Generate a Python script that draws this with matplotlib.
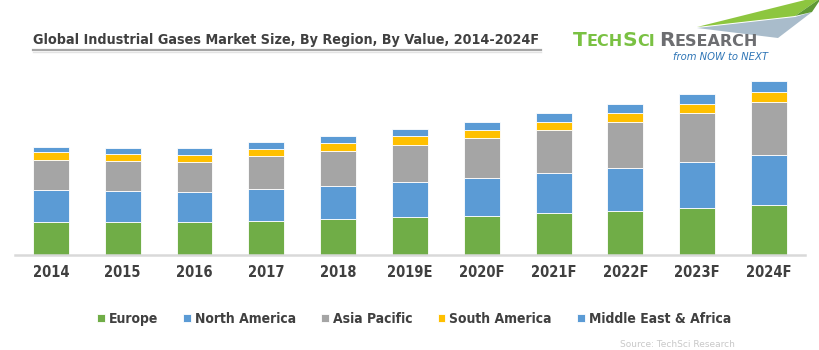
"""
Global industrial gases market size by region, stacked bars 2014-2024F.
Values read off the reference picture (arbitrary units, pixel heights).
"""

import matplotlib.pyplot as plt
import numpy as np
from matplotlib.patches import Polygon

YEARS = ["2014", "2015", "2016", "2017", "2018", "2019E", "2020F",
         "2021F", "2022F", "2023F", "2024F"]
EUROPE = [33.3, 32.7, 32.7, 34.3, 35.7, 37.7, 39.3, 41.7, 44.0, 46.7, 49.7]
NORTH_AMERICA = [31.7, 31.0, 30.0, 31.7, 33.6, 35.6, 38.0, 40.0, 42.7, 46.3, 50.0]
ASIA_PACIFIC = [30.0, 30.0, 30.6, 33.0, 35.0, 36.7, 40.0, 43.0, 46.6, 48.7, 53.0]
SOUTH_AMERICA = [8.0, 7.6, 7.0, 7.3, 7.4, 9.0, 8.0, 8.6, 8.7, 9.6, 10.3]
MEA = [5.3, 5.7, 6.7, 6.7, 7.3, 6.7, 7.7, 8.4, 9.0, 9.7, 11.0]

SERIES = [
    ("Europe", EUROPE, "#70ad47"),
    ("North America", NORTH_AMERICA, "#5b9bd5"),
    ("Asia Pacific", ASIA_PACIFIC, "#a5a5a5"),
    ("South America", SOUTH_AMERICA, "#ffc000"),
    ("Middle East & Africa", MEA, "#5b9bd5"),
]

TXT = "#404040"
FONT = dict(family="DejaVu Sans", stretch="condensed", weight="bold")

W, H = 820, 350
fig = plt.figure(figsize=(W / 100, H / 100), dpi=100, facecolor="white")


def fx(px):
    return px / W


def fy(py):
    return 1 - py / H


# plot area: x 15..805 px, baseline at y=255, top at y=60
ax = fig.add_axes([fx(15), fy(255), fx(790), (255 - 60) / H])
x = np.arange(len(YEARS))
bottom = np.zeros(len(YEARS))
for name, vals, color in SERIES:
    ax.bar(x, vals, width=0.5, bottom=bottom, color=color, label=name,
           edgecolor="white", linewidth=0.6)
    bottom += np.array(vals)

ax.set_xlim(-0.5, len(YEARS) - 0.5)
ax.set_ylim(0, 195)
ax.set_yticks([])
ax.set_xticks(x)
ax.set_xticklabels(YEARS, color=TXT, fontsize=10.5, **FONT)
ax.tick_params(axis="x", length=0, pad=7)
for side in ["top", "left", "right"]:
    ax.spines[side].set_visible(False)
ax.spines["bottom"].set_color("#d9d9d9")
ax.spines["bottom"].set_linewidth(1.8)

# title + underline
fig.text(fx(33), fy(40), "Global Industrial Gases Market Size, By Region, By Value, 2014-2024F",
         ha="left", va="center", color=TXT, fontsize=10.3, **FONT)
fig.add_artist(plt.Line2D([fx(33), fx(541)], [fy(50), fy(50)], color="#a6a6a6", lw=1.6))
fig.add_artist(plt.Line2D([fx(33), fx(541)], [fy(52), fy(52)], color="#e3e3e3", lw=1.0))

# logo swoosh
fig.add_artist(Polygon([(fx(697), fy(27)), (fx(805), fy(0)), (fx(818), fy(0)), (fx(795), fy(16))],
                       closed=True, facecolor="#8dc63f", edgecolor="none"))
fig.add_artist(Polygon([(fx(697), fy(28)), (fx(795), fy(17)), (fx(812), fy(12)), (fx(778), fy(38))],
                       closed=True, facecolor="#a9bccb", edgecolor="none"))
fig.add_artist(Polygon([(fx(795), fy(16)), (fx(818), fy(0)), (fx(820), fy(0)), (fx(812), fy(12))],
                       closed=True, facecolor="#5f9a34", edgecolor="none"))

# logo wordmark in small caps: big initials, smaller rest
renderer = fig.canvas.get_renderer()
pieces = [("T", 14.5, "#7ac143"), ("ECH", 11.5, "#7ac143"), ("S", 14.5, "#7ac143"),
          ("CI", 11.5, "#7ac143"), (" ", 8, "#7ac143"),
          ("R", 14.5, "#6d6e71"), ("ESEARCH", 11.5, "#6d6e71")]
xpos = 573
for s, size, col in pieces:
    t = fig.text(fx(xpos), fy(46), s, ha="left", va="baseline", color=col,
                 fontsize=size, family="DejaVu Sans", weight="bold")
    xpos = t.get_window_extent(renderer).x1
fig.text(fx(768), fy(57), "from NOW to NEXT", ha="right", va="center", color="#2e75b6",
         fontsize=8, style="italic", family="DejaVu Sans", stretch="condensed")

# legend
leg = fig.legend(loc="center", bbox_to_anchor=(fx(414), fy(319)), ncol=5, frameon=False,
                 handlelength=0.55, handleheight=0.55, handletextpad=0.3, columnspacing=1.8,
                 prop=dict(size=10, **FONT))
for t in leg.get_texts():
    t.set_color(TXT)

# source line at the very bottom
fig.text(fx(620), fy(349), "Source: TechSci Research", ha="left", va="bottom",
         color="#c8c8c8", fontsize=6.5)

fig.savefig("out.png", dpi=100, facecolor="white")
